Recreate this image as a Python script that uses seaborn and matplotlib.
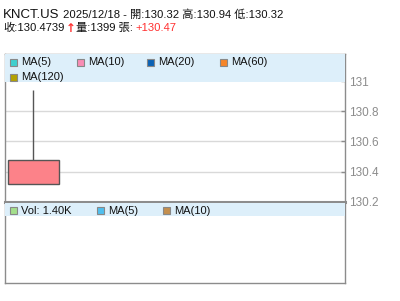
import matplotlib
matplotlib.use("Agg")
import matplotlib.pyplot as plt
import seaborn as sns
import pandas as pd
from matplotlib.patches import Rectangle

# ---- data ----
symbol = "KNCT.US"
date = "2025/12/18"
open_p = [130.32]
high_p = [130.94]
low_p = [130.32]
close_p = [130.4739]
volume = [1399]
change = "+130.47"
y_ticks = [130.2, 130.4, 130.6, 130.8, 131]
y_tick_labels = ["130.2", "130.4", "130.6", "130.8", "131"]
ma_labels = ["MA(5)", "MA(10)", "MA(20)", "MA(60)", "MA(120)"]
ma_colors = ["#3fd0cf", "#f98db5", "#0b62b5", "#f68528", "#b3a100"]
vol_labels = ["Vol: 1.40K", "MA(5)", "MA(10)"]
vol_colors = ["#a3df8c", "#4fbfee", "#c48f4e"]

sns.set_style("white")
plt.rcParams["font.family"] = ["Liberation Sans", "Noto Sans CJK TC", "DejaVu Sans"]

W, H = 400, 301
fig = plt.figure(figsize=(4, 3.01), dpi=100)

def axrect(x0, y0, x1, y1):
    return [x0 / W, 1 - y1 / H, (x1 - x0) / W, (y1 - y0) / H]

ax = fig.add_axes(axrect(5, 54, 345, 201.7))
axv = fig.add_axes(axrect(5, 201.7, 345, 282.7))

df = pd.DataFrame({"i": range(len(open_p)), "open": open_p, "high": high_p,
                   "low": low_p, "close": close_p, "vol": volume})

ax.set_xlim(-0.5, 5.5)
ax.set_ylim(130.2, 131.18)

# grid lines
for t in y_ticks[1:-1]:
    ax.axhline(t, color="#d9d9d9", lw=1, zorder=0)

# candle
ax.vlines(df["i"], df["low"], df["high"], color="#555555", lw=1, zorder=2)
body_bottom = df[["open", "close"]].min(axis=1)
body_h = (df["close"] - df["open"]).abs()
ax.bar(df["i"], body_h, bottom=body_bottom, width=0.9, color="#fc8289",
       edgecolor="#555555", lw=1, zorder=3)

# legend band
ax.add_patch(Rectangle((0, 0.81), 1, 0.19, transform=ax.transAxes,
                       facecolor="#ddeffa", edgecolor="none", zorder=4))

def legend_item(a, xpx, ypx, color, label, x0, y0, x1, y1):
    fx = lambda px: (px - x0) / (x1 - x0)
    fy = lambda py: 1 - (py - y0) / (y1 - y0)
    a.add_patch(Rectangle((fx(xpx), fy(ypx + 3.5)), 7 / (x1 - x0), 7 / (y1 - y0),
                          transform=a.transAxes, facecolor=color,
                          edgecolor="#888888", lw=0.8, zorder=5))
    a.text(fx(xpx + 11), fy(ypx), label, transform=a.transAxes, fontsize=8,
           va="center", ha="left", color="#111111", zorder=6)

main_pos = [(10, 62), (77, 62), (147, 62), (220, 62), (10, 77)]
for (px, py), c, l in zip(main_pos, ma_colors, ma_labels):
    legend_item(ax, px, py, c, l, 5, 54, 345, 201.7)

# volume panel
axv.set_xlim(-0.5, 5.5)
axv.set_ylim(0, 1)
axv.add_patch(Rectangle((0, 1 - (216 - 201.7) / 81), 1, (216 - 201.7) / 81 - 0.01,
                        transform=axv.transAxes, facecolor="#ddeffa",
                        edgecolor="none", zorder=4))
vol_pos = [(10, 210.5), (97, 210.5), (163, 210.5)]
for (px, py), c, l in zip(vol_pos, vol_colors, vol_labels):
    legend_item(axv, px, py, c, l, 5, 201.7, 345, 282.7)

for a in (ax, axv):
    for s in a.spines.values():
        s.set_color("#8c8c8c")
        s.set_linewidth(1)
    a.set_xticks([])
axv.set_yticks([])
axv.spines["top"].set_linewidth(2.2)

ax.yaxis.tick_right()
ax.set_yticks(y_ticks)
ax.set_yticklabels(y_tick_labels)
ax.tick_params(axis="y", direction="in", length=3, width=1, color="#8c8c8c",
               labelsize=8.5, labelcolor="#8c8c8c", pad=3, right=True, left=False)

# header text
fig.text(3 / W, 1 - 17.5 / H, symbol, fontsize=9.5, color="#111111", va="baseline")
fig.text(63 / W, 1 - 17.5 / H,
         f"{date} - 開:{open_p[0]:.2f} 高:{high_p[0]:.2f} 低:{low_p[0]:.2f}",
         fontsize=8.1, color="#111111", va="baseline")
fig.text(3 / W, 1 - 31 / H, f"收:{close_p[0]}", fontsize=8.1, color="#111111", va="baseline")
fig.text(66 / W, 1 - 32.5 / H, "↑", fontsize=8.5, color="#ff3030", va="baseline",
         fontweight="bold", family="DejaVu Sans")
fig.text(76.5 / W, 1 - 31 / H, f"量:{volume[0]} 張:", fontsize=8.1, color="#111111",
         va="baseline")
fig.text(135 / W, 1 - 31 / H, change, fontsize=8.1, color="#ff3030", va="baseline")

fig.savefig("out.png", dpi=100)
